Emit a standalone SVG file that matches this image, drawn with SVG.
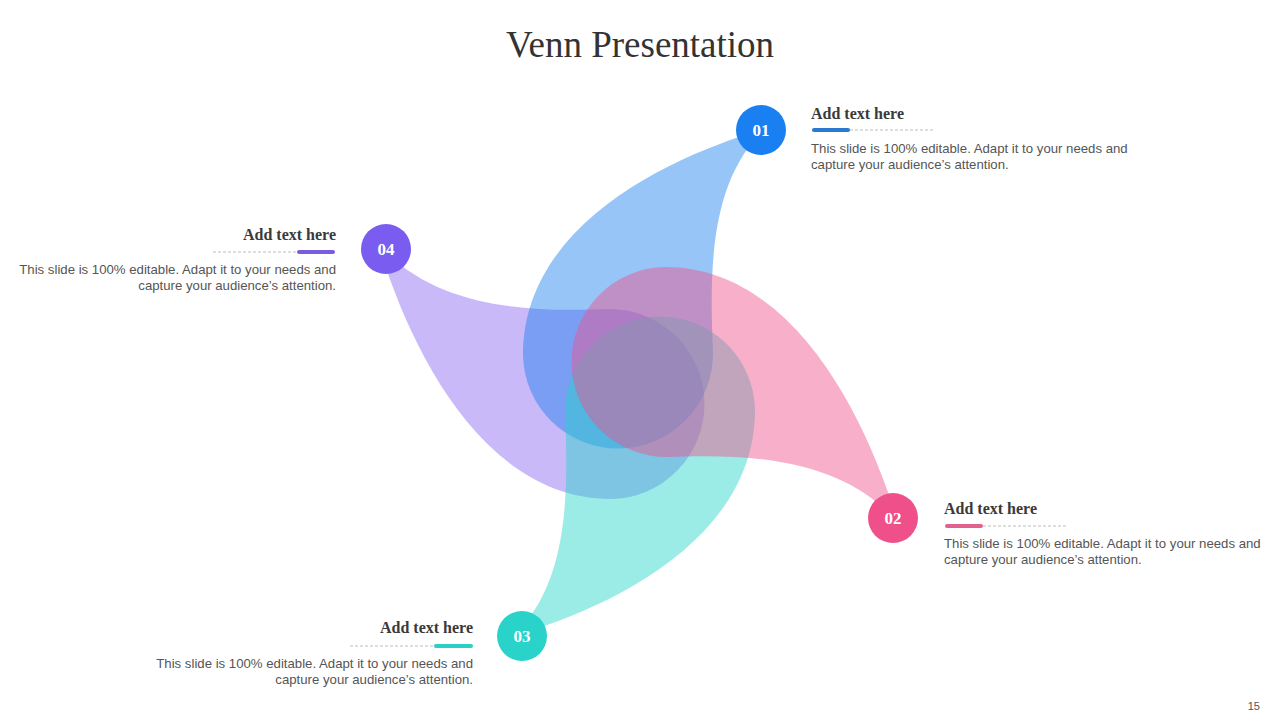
<svg xmlns="http://www.w3.org/2000/svg" width="1280" height="720" viewBox="0 0 1280 720">
<style>
.title{font-family:"Liberation Serif","Times New Roman",serif;font-size:37px;fill:#333}
.head{font-family:"Liberation Serif","Times New Roman",serif;font-size:16px;font-weight:bold;fill:#3a3a3a}
.body{font-family:"Liberation Sans",Arial,sans-serif;font-size:13.2px;fill:#555}
.num{font-family:"Liberation Serif","Times New Roman",serif;font-size:17px;font-weight:bold;fill:#fff}
.dash{stroke:#bdbdbd;stroke-width:1;stroke-dasharray:3 2;fill:none}
.bar{stroke-width:4;stroke-linecap:round;fill:none}
.petal{opacity:0.45}
.pg{font-family:"Liberation Sans",Arial,sans-serif;font-size:11px;fill:#555}
</style>
<defs>
<path id="pA" d="M 124,-224 C 40,-196 -95,-130 -95,-5 A 95 95 0 1 0 95,-8 C 92,-80 90,-170 140,-224 Z"/>
<path id="pB" d="M 136,-230 C 48,-200 -95,-130 -95,-5 A 95 95 0 1 0 95,-8 C 92,-80 94,-172 152,-230 Z"/>
</defs>
<rect width="1280" height="720" fill="#fff"/>
<text class="title" x="640" y="57" text-anchor="middle">Venn Presentation</text>

<g id="petals">
<use href="#pB" class="petal" fill="#8a63f2" transform="translate(616,404) rotate(270)"/>
<use href="#pA" class="petal" fill="#1a7ff0" transform="translate(618,360)"/>
<use href="#pA" class="petal" fill="#22d3c8" transform="translate(660,405) rotate(180)"/>
<use href="#pB" class="petal" fill="#f0508a" transform="translate(660,362) rotate(90)"/>
</g>

<g id="node01">
<circle cx="761" cy="130" r="25" fill="#1a7ff0"/>
<text class="num" x="761" y="136" text-anchor="middle">01</text>
<text class="head" x="811" y="119">Add text here</text>
<line class="dash" x1="850" y1="130" x2="935" y2="130"/>
<line class="bar" x1="814" y1="130" x2="848" y2="130" stroke="#2b78cf"/>
<text class="body" x="811" y="153">This slide is 100% editable. Adapt it to your needs and</text>
<text class="body" x="811" y="169">capture your audience’s attention.</text>
</g>

<g id="node02">
<circle cx="893" cy="518" r="25" fill="#f0508a"/>
<text class="num" x="893" y="524" text-anchor="middle">02</text>
<text class="head" x="944" y="514">Add text here</text>
<line class="dash" x1="983" y1="526" x2="1067" y2="526"/>
<line class="bar" x1="947" y1="526" x2="981" y2="526" stroke="#e0628f"/>
<text class="body" x="944" y="548">This slide is 100% editable. Adapt it to your needs and</text>
<text class="body" x="944" y="564">capture your audience’s attention.</text>
</g>

<g id="node03">
<circle cx="522" cy="636" r="25" fill="#2ad3c9"/>
<text class="num" x="522" y="642" text-anchor="middle">03</text>
<text class="head" x="473" y="633" text-anchor="end">Add text here</text>
<line class="dash" x1="350" y1="646" x2="434" y2="646"/>
<line class="bar" x1="436" y1="646" x2="471" y2="646" stroke="#2ccfc6"/>
<text class="body" x="473" y="668" text-anchor="end">This slide is 100% editable. Adapt it to your needs and</text>
<text class="body" x="473" y="684" text-anchor="end">capture your audience’s attention.</text>
</g>

<g id="node04">
<circle cx="386" cy="249" r="25" fill="#7b5cf0"/>
<text class="num" x="386" y="255" text-anchor="middle">04</text>
<text class="head" x="336" y="240" text-anchor="end">Add text here</text>
<line class="dash" x1="213" y1="252" x2="297" y2="252"/>
<line class="bar" x1="299" y1="252" x2="333" y2="252" stroke="#7b5ce0"/>
<text class="body" x="336" y="274" text-anchor="end">This slide is 100% editable. Adapt it to your needs and</text>
<text class="body" x="336" y="290" text-anchor="end">capture your audience’s attention.</text>
</g>

<text class="pg" x="1260" y="710" text-anchor="end">15</text>
</svg>
